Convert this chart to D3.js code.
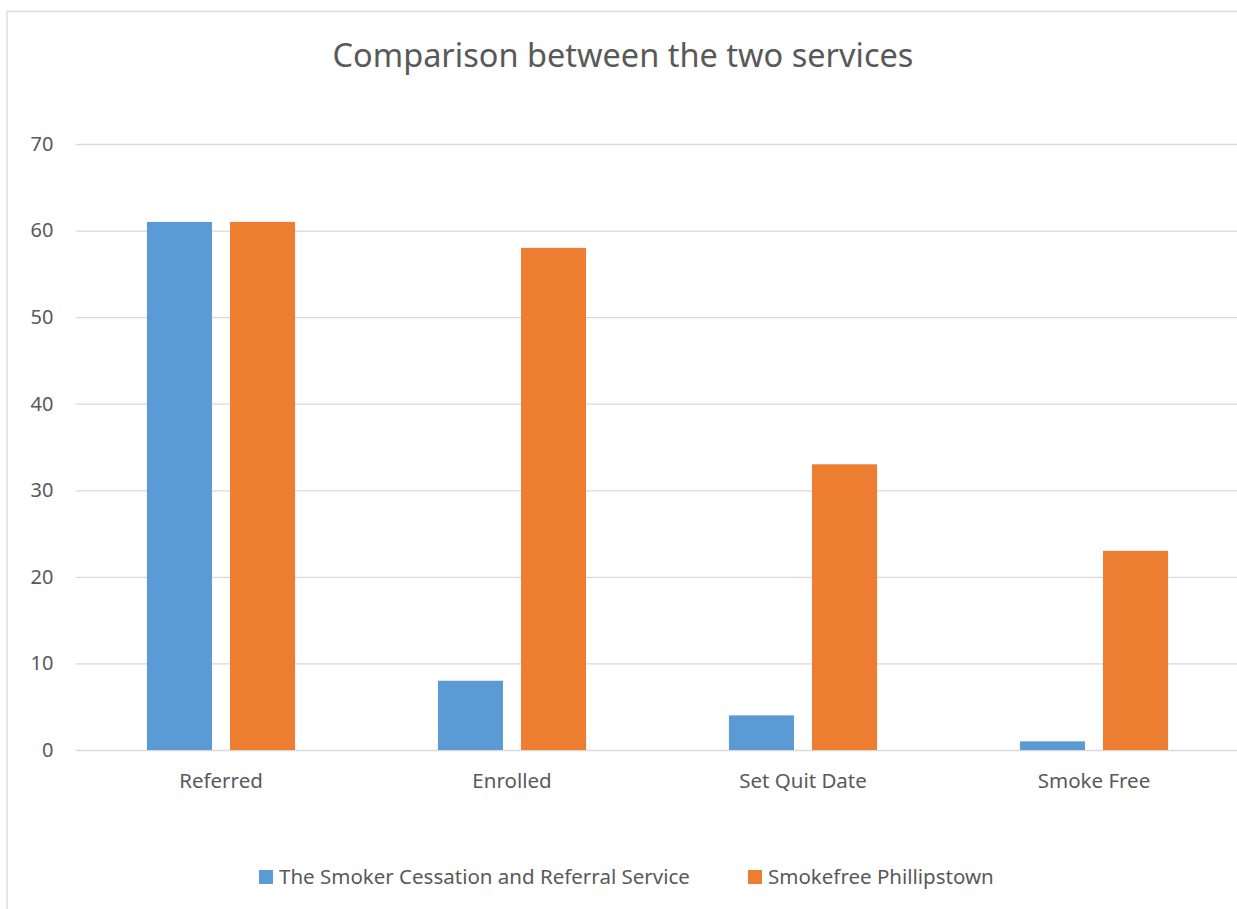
<!DOCTYPE html>
<html>
<head>
<meta charset="utf-8">
<script src="https://cdn.jsdelivr.net/npm/d3@7"></script>
<style>
  html, body { margin: 0; padding: 0; background: #fff; }
  text { font-family: "Noto Sans", "Open Sans", sans-serif; fill: #595959; }
</style>
</head>
<body>
<div id="chart"></div>
<script>
const width = 1237;
const height = 909;

const categories = ['Referred', 'Enrolled', 'Set Quit Date', 'Smoke Free'];
const seriesNames = ['The Smoker Cessation and Referral Service', 'Smokefree Phillipstown'];
const cessationValues = [61, 8, 4, 1];
const phillipstownValues = [61, 58, 33, 23];
const yTicks = [0, 10, 20, 30, 40, 50, 60, 70];

const colorBlue = '#5b9bd5';
const colorOrange = '#ed7d31';
const colorGrid = '#d9d9d9';
const colors = [colorBlue, colorOrange];

const plot = { left: 75.5, right: 1239.5, top: 144, bottom: 750 };

const svg = d3.select('#chart')
    .append('svg')
    .attr('width', width)
    .attr('height', height);

// chart frame (cut off on the right and bottom like the reference)
svg.append('rect')
    .attr('x', 7)
    .attr('y', 11.5)
    .attr('width', 1260)
    .attr('height', 940)
    .attr('fill', '#fff')
    .attr('stroke', colorGrid)
    .attr('stroke-width', 1.3);

svg.append('text')
    .attr('x', 623)
    .attr('y', 67)
    .attr('text-anchor', 'middle')
    .style('font-size', '32.5px')
    .text('Comparison between the two services');

const x0 = d3.scaleBand()
    .domain(categories)
    .range([plot.left, plot.right])
    .paddingInner(0.491)
    .paddingOuter(0.2455);

const x1 = d3.scaleBand()
    .domain(d3.range(seriesNames.length))
    .range([0, x0.bandwidth()])
    .paddingInner(0.217)
    .paddingOuter(0);

const y = d3.scaleLinear()
    .domain([0, 70])
    .range([plot.bottom, plot.top]);

// gridlines + y labels
const yAxis = svg.append('g')
    .attr('transform', 'translate(' + plot.left + ',0)')
    .call(d3.axisLeft(y)
        .tickValues(yTicks)
        .tickSize(-(width - plot.left))
        .tickPadding(22));

yAxis.select('.domain').remove();
yAxis.selectAll('.tick line')
    .attr('stroke', colorGrid)
    .attr('stroke-width', 1.3);
yAxis.selectAll('.tick text')
    .attr('fill', '#595959')
    .style('font-size', '20px')
    .style('font-family', '"Noto Sans", sans-serif');

const rows = categories.map((c, i) => ({ category: c, values: [cessationValues[i], phillipstownValues[i]] }));

const groups = svg.selectAll('.group')
    .data(rows)
    .enter()
    .append('g')
    .attr('class', 'group')
    .attr('transform', d => 'translate(' + x0(d.category) + ',0)');

groups.selectAll('rect')
    .data(d => d.values.map((v, i) => ({ series: i, value: v })))
    .enter()
    .append('rect')
    .attr('x', d => x1(d.series))
    .attr('width', x1.bandwidth())
    .attr('y', d => y(d.value))
    .attr('height', d => y(0) - y(d.value))
    .attr('fill', d => colors[d.series]);

// category labels
svg.selectAll('.cat-label')
    .data(categories)
    .enter()
    .append('text')
    .attr('class', 'cat-label')
    .attr('x', d => x0(d) + x0.bandwidth() / 2)
    .attr('y', 788)
    .attr('text-anchor', 'middle')
    .style('font-size', '20.5px')
    .text(d => d);

// legend
const legendX = [259, 748];
const legend = svg.selectAll('.legend')
    .data(seriesNames)
    .enter()
    .append('g')
    .attr('class', 'legend')
    .attr('transform', (d, i) => 'translate(' + legendX[i] + ',870)');

legend.append('rect')
    .attr('width', 14)
    .attr('height', 14)
    .attr('fill', (d, i) => colors[i]);

legend.append('text')
    .attr('x', 20)
    .attr('y', 14)
    .style('font-size', '20.5px')
    .text(d => d);
</script>
</body>
</html>
